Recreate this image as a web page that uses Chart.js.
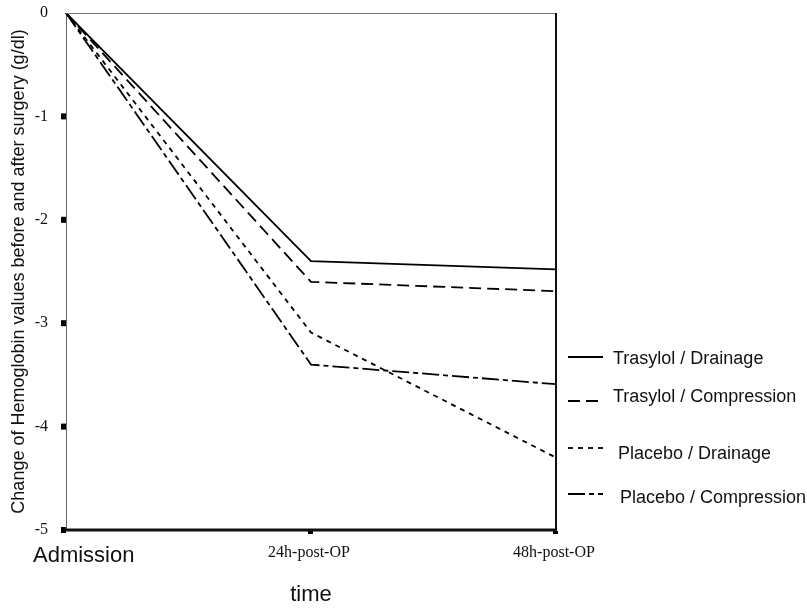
<!DOCTYPE html>
<html>
<head>
<meta charset="utf-8">
<script src="https://cdn.jsdelivr.net/npm/chart.js@4"></script>
<style>
  html, body { margin: 0; padding: 0; background: #fff; }
  #wrap { width: 807px; height: 609px; position: relative; }
</style>
</head>
<body>
<div id="wrap"><canvas id="c" width="807" height="609"></canvas></div>
<script>
// ---- data ----
const categories = ['Admission', '24h-post-OP', '48h-post-OP'];
const seriesLabels = ['Trasylol / Drainage', 'Trasylol / Compression', 'Placebo / Drainage', 'Placebo / Compression'];
const trasylolDrainage = [0, -2.40, -2.48];
const trasylolCompression = [0, -2.60, -2.69];
const placeboDrainage = [0, -3.09, -4.30];
const placeboCompression = [0, -3.40, -3.59];
const yTickValues = [0, -1, -2, -3, -4, -5];
const yTitle = 'Change of Hemoglobin values before and after surgery (g/dl)';
const xTitle = 'time';

// ---- styles ----
const dashes = [[], [12, 6], [5, 5], [17, 4, 5, 4]];
const seriesData = [trasylolDrainage, trasylolCompression, placeboDrainage, placeboCompression];

const legendPos = [
  { lineY: 357, textX: 613, baseY: 364 },
  { lineY: 401, textX: 613, baseY: 402 },
  { lineY: 448, textX: 618, baseY: 459 },
  { lineY: 494, textX: 620, baseY: 503 }
];

const framePlugin = {
  id: 'frame',
  afterDraw(chart) {
    const ctx = chart.ctx;
    const a = chart.chartArea;
    const xs = chart.scales.x, ys = chart.scales.y;
    ctx.save();
    // top border (thin gray)
    ctx.strokeStyle = '#777';
    ctx.lineWidth = 1;
    ctx.beginPath(); ctx.moveTo(a.left, a.top + 0.5); ctx.lineTo(a.right, a.top + 0.5); ctx.stroke();
    // right border
    ctx.strokeStyle = '#111';
    ctx.lineWidth = 2;
    ctx.beginPath(); ctx.moveTo(a.right, a.top); ctx.lineTo(a.right, a.bottom); ctx.stroke();
    // bottom axis thick
    ctx.lineWidth = 3;
    ctx.beginPath(); ctx.moveTo(a.left - 4, a.bottom); ctx.lineTo(a.right + 1, a.bottom); ctx.stroke();
    // y tick squares
    ctx.fillStyle = '#000';
    yTickValues.forEach(v => {
      if (v === 0) return;
      const py = ys.getPixelForValue(v);
      ctx.fillRect(a.left - 5, py - 3, 5, 6);
    });
    // x tick marks
    categories.forEach((c, i) => {
      if (i === 0) return;
      const px = xs.getPixelForValue(i);
      ctx.fillRect(px - 3, a.bottom + 1, 5, 3);
    });
    // x tick labels
    ctx.fillStyle = '#111';
    ctx.textBaseline = 'alphabetic';
    categories.forEach((c, i) => {
      const px = xs.getPixelForValue(i);
      if (i === 0) {
        ctx.font = '22px "Liberation Sans", Arial, sans-serif';
        ctx.textAlign = 'left';
        ctx.fillText(c, px - 33, 562);
      } else {
        ctx.font = '16px "Liberation Serif", "Times New Roman", serif';
        ctx.textAlign = 'center';
        ctx.fillText(c, px - 2, 557);
      }
    });
    // legend
    chart.data.datasets.forEach((ds, i) => {
      const p = legendPos[i];
      ctx.strokeStyle = '#000';
      ctx.lineWidth = 1.8;
      ctx.setLineDash(ds.borderDash || []);
      ctx.beginPath(); ctx.moveTo(568, p.lineY); ctx.lineTo(603, p.lineY); ctx.stroke();
      ctx.setLineDash([]);
      ctx.fillStyle = '#111';
      ctx.font = '18px "Liberation Sans", Arial, sans-serif';
      ctx.textAlign = 'left';
      ctx.fillText(ds.label, p.textX, p.baseY);
    });
    ctx.restore();
  }
};

new Chart(document.getElementById('c'), {
  type: 'line',
  data: {
    labels: categories,
    datasets: seriesLabels.map((lab, i) => ({
      label: lab,
      data: seriesData[i],
      borderColor: '#000',
      borderWidth: 1.8,
      borderDash: dashes[i],
      pointRadius: 0,
      tension: 0,
      fill: false
    }))
  },
  options: {
    responsive: false,
    animation: false,
    layout: { padding: { top: 13, right: 251, bottom: 0, left: 0 } },
    plugins: { legend: { display: false }, tooltip: { enabled: false } },
    scales: {
      x: {
        type: 'category',
        offset: false,
        grid: { display: false },
        border: { display: false },
        ticks: { display: false },
        title: {
          display: true, text: xTitle, color: '#111',
          font: { family: '"Liberation Sans", Arial, sans-serif', size: 22 },
          padding: { top: 0, bottom: 1 }
        },
        afterFit(s) { s.height = 79; s.paddingLeft = 0; s.paddingRight = 0; }
      },
      y: {
        min: -5, max: 0,
        afterBuildTicks(s) { s.ticks = yTickValues.map(v => ({ value: v })); },
        grid: { display: false },
        border: { display: true, color: '#666', width: 1 },
        ticks: {
          color: '#111', padding: 10,
          font: { family: '"Liberation Serif", "Times New Roman", serif', size: 16 },
          callback: v => String(v)
        },
        title: {
          display: true, text: yTitle, color: '#111',
          font: { family: '"Liberation Sans", Arial, sans-serif', size: 18 },
          padding: { top: 8, bottom: 0 }
        },
        afterFit(s) { s.width = 66; s.paddingTop = 0; s.paddingBottom = 0; }
      }
    }
  },
  plugins: [framePlugin]
});
</script>
</body>
</html>
